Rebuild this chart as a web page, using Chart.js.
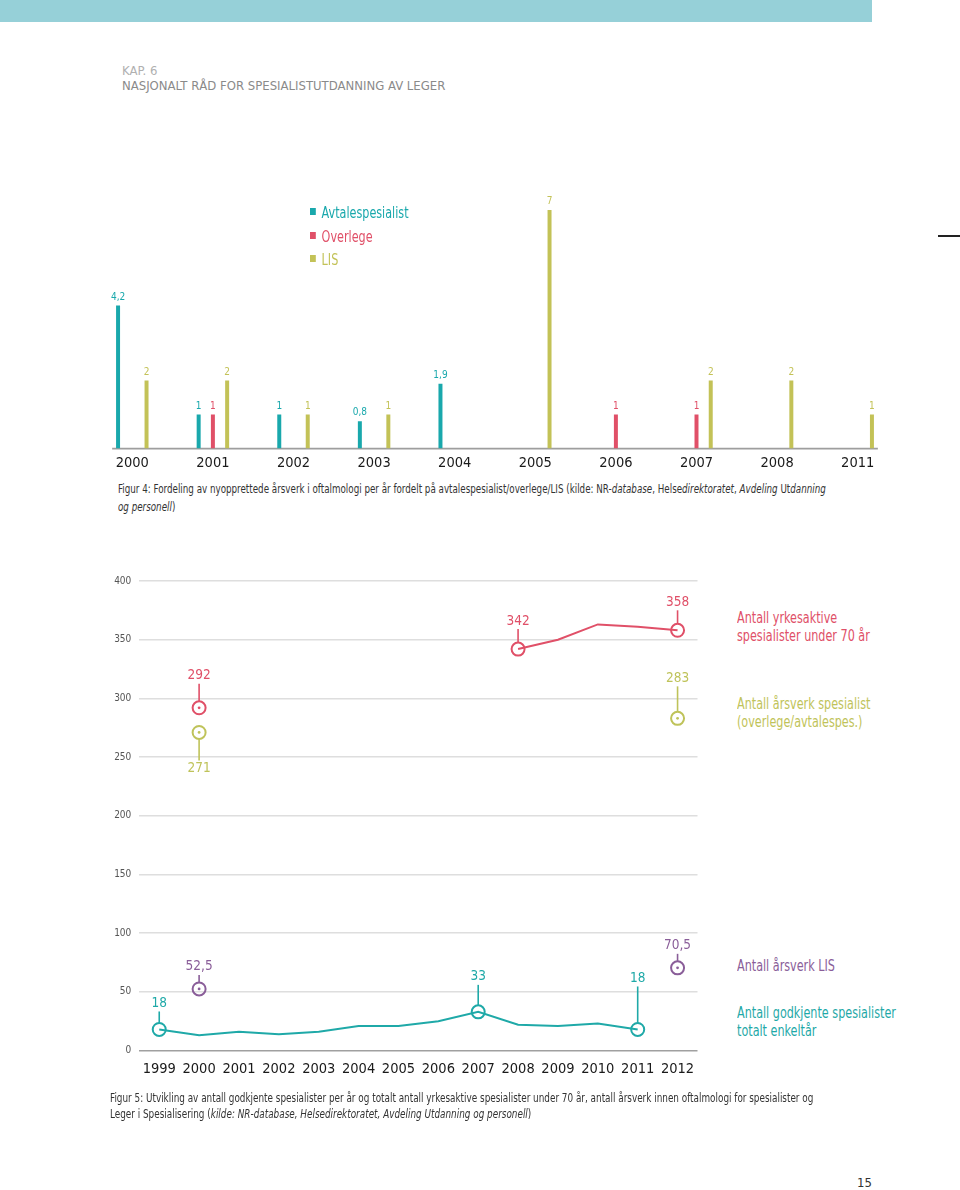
<!DOCTYPE html>
<html><head><meta charset="utf-8">
<script src="https://cdn.jsdelivr.net/npm/chart.js@4.4.1/dist/chart.umd.min.js"></script>
<style>
body{margin:0;width:960px;height:1190px;position:relative;background:#fff;overflow:hidden;
 font-family:"Liberation Sans Narrow","DejaVu Sans Condensed","Roboto Condensed",sans-serif}
.abs{position:absolute;white-space:nowrap}
.nar{transform-origin:left top;transform:scaleX(0.83)}
#band{left:0;top:0;width:872px;height:22px;background:#96d0d8}
#dash{left:938px;top:235px;width:22px;height:2px;background:#222}
#kap{left:122px;top:63px;font-size:13px;color:#b0b0b0;line-height:16px}
#title{left:122px;top:78px;font-size:13px;color:#8a8a8a;line-height:16px}
.leg{font-size:15px;line-height:18px}
.sq{display:inline-block;width:7px;height:7px;margin-right:7px;vertical-align:middle;position:relative;top:-2px}
.cap{font-size:12px;color:#333;line-height:18px}
.side{font-size:15px;line-height:18px}
#c1wrap{left:82px;top:180px;width:826px;height:300px}
#c2wrap{left:100px;top:560px;width:606px;height:533px}
</style></head>
<body>
<div id="band" class="abs"></div>
<div id="dash" class="abs"></div>
<div id="kap" class="abs">KAP. 6</div>
<div id="title" class="abs">NASJONALT RÅD FOR SPESIALISTUTDANNING AV LEGER</div>

<div id="c1wrap" class="abs"><canvas id="c1" width="826" height="300"></canvas></div>
<div class="abs leg nar" style="left:310px;top:204px;color:#19a8ac"><span class="sq" style="background:#19a8ac"></span>Avtalespesialist</div>
<div class="abs leg nar" style="left:310px;top:228px;color:#e05068"><span class="sq" style="background:#e05068"></span>Overlege</div>
<div class="abs leg nar" style="left:310px;top:251px;color:#c3c257"><span class="sq" style="background:#c3c257"></span>LIS</div>

<div class="abs cap nar" style="left:118px;top:480px;transform:scaleX(0.81)">Figur 4: Fordeling av nyopprettede årsverk i oftalmologi per år fordelt på avtalespesialist/overlege/LIS (kilde: NR-<i>database</i>, Helse<i>direktoratet</i>, <i>Avdeling</i> Ut<i>danning</i><br><i>og personell</i>)</div>

<div id="c2wrap" class="abs"><canvas id="c2" width="606" height="533"></canvas></div>
<div class="abs side nar" style="left:737px;top:609px;color:#e05068">Antall yrkesaktive<br>spesialister under 70 år</div>
<div class="abs side nar" style="left:737px;top:695px;color:#bfc35a">Antall årsverk spesialist<br>(overlege/avtalespes.)</div>
<div class="abs side nar" style="left:737px;top:957px;color:#8a5e99">Antall årsverk LIS</div>
<div class="abs side nar" style="left:737px;top:1004px;color:#1fa9a8">Antall godkjente spesialister<br>totalt enkeltår</div>

<div class="abs cap nar" style="left:110px;top:1090px;line-height:16px;transform:scaleX(0.82)">Figur 5: Utvikling av antall godkjente spesialister per år og totalt antall yrkesaktive spesialister under 70 år, antall årsverk innen oftalmologi for spesialister og<br>Leger i Spesialisering (<i>kilde: NR-database, Helsedirektoratet, Avdeling Utdanning og personell</i>)</div>

<div class="abs" style="left:857px;top:1175px;font-size:13px;color:#333">15</div>

<script>
// ---------- Figure 4 data ----------
const fig4Years = ['2000','2001','2002','2003','2004','2005','2006','2007','2008','2011'];
const fig4Avtalespesialist = [4.2, 1, 1, 0.8, 1.9, null, null, null, null, null];
const fig4Overlege = [null, 1, null, null, null, null, 1, 1, null, null];
const fig4LIS = [2, 2, 1, 1, null, 7, null, 2, 2, 1];

// ---------- Figure 5 data ----------
const fig5Years = ['1999','2000','2001','2002','2003','2004','2005','2006','2007','2008','2009','2010','2011','2012'];
const fig5Yrkesaktive = [null, 292, null, null, null, null, null, null, null, 342, 350, 363, 361, 358];
const fig5ArsverkSpesialist = [null, 271, null, null, null, null, null, null, null, null, null, null, null, 283];
const fig5ArsverkLIS = [null, 52.5, null, null, null, null, null, null, null, null, null, null, null, 70.5];
const fig5Godkjente = [18, 13, 16, 14, 16, 21, 21, 25, 33, 22, 21, 23, 18, null];
const fig5YTicks = [0, 50, 100, 150, 200, 250, 300, 350, 400];

// annotation styling (label offsets in px, centre dot) per dataset/index
const fig5Marks = [
  {1:{dy:-32, dot:true}, 9:{dy:-28}, 13:{dy:-28}},
  {1:{dy:36, dot:true}, 13:{dy:-40, dot:true}},
  {1:{dy:-22, dot:true}, 13:{dy:-22, dot:true}},
  {0:{dy:-26}, 8:{dy:-35}, 12:{dy:-51}}
];

const FONT = '"Liberation Sans Narrow","DejaVu Sans Condensed","Roboto Condensed",sans-serif';
Chart.defaults.font.family = FONT;
const TEAL = '#19a8ac', RED = '#e05068', LISC = '#c3c257', PURP = '#8a5e99', TEAL2 = '#1fa9a8', YEL2 = '#bfc35a';
const fmt = v => String(v).replace('.', ',');

// ---------- Chart 1 ----------
const barLabels = {
  id: 'barLabels',
  beforeDatasetsDraw(chart) {
    const ca = chart.chartArea, ctx = chart.ctx;
    const w = (ca.right - ca.left) / fig4Years.length;
    ctx.save();
    ctx.strokeStyle = '#9e9e9e'; ctx.lineWidth = 1.6;
    ctx.beginPath(); ctx.moveTo(ca.left + w * 0.25, ca.bottom); ctx.lineTo(ca.right - w * 0.25, ca.bottom); ctx.stroke();
    ctx.restore();
  },
  afterDatasetsDraw(chart) {
    const ctx = chart.ctx;
    ctx.save();
    ctx.font = '10px ' + FONT; ctx.textAlign = 'center'; ctx.textBaseline = 'middle';
    chart.data.datasets.forEach((ds, di) => {
      chart.getDatasetMeta(di).data.forEach((el, i) => {
        const v = ds.data[i];
        if (v === null || v === undefined) return;
        ctx.fillStyle = ds.backgroundColor;
        ctx.fillText(fmt(v), el.x, el.y - 8.5);
      });
    });
    ctx.restore();
  }
};

new Chart(document.getElementById('c1'), {
  type: 'bar',
  data: {
    labels: fig4Years,
    datasets: [
      {label: 'Avtalespesialist', data: fig4Avtalespesialist, backgroundColor: TEAL},
      {label: 'Overlege', data: fig4Overlege, backgroundColor: RED},
      {label: 'LIS', data: fig4LIS, backgroundColor: LISC}
    ]
  },
  options: {
    responsive: false, animation: false, events: [],
    categoryPercentage: 0.53, barPercentage: 0.28,
    layout: {padding: {left: 10, right: 10, top: 13, bottom: 2}},
    plugins: {legend: {display: false}, tooltip: {enabled: false}},
    scales: {
      x: {
        grid: {display: false, drawTicks: false}, border: {display: false},
        ticks: {color: '#1a1a1a', font: {size: 14.5}, padding: 6, autoSkip: false, maxRotation: 0}
      },
      y: {display: false, min: 0, max: 7.5}
    }
  },
  plugins: [barLabels]
});

// ---------- Chart 2 ----------
const markPlugin = {
  id: 'marks',
  afterDatasetsDraw(chart) {
    const ctx = chart.ctx, r = 6.5;
    chart.data.datasets.forEach((ds, di) => {
      const meta = chart.getDatasetMeta(di), marks = fig5Marks[di];
      Object.keys(marks).forEach(k => {
        const i = +k, m = marks[i], pt = meta.data[i], v = ds.data[i];
        const dir = Math.sign(m.dy), ly = pt.y + m.dy;
        ctx.save();
        ctx.strokeStyle = ds.borderColor; ctx.fillStyle = ds.borderColor; ctx.lineWidth = 1.6;
        ctx.beginPath(); ctx.moveTo(pt.x, pt.y + dir * r); ctx.lineTo(pt.x, ly - dir * 8); ctx.stroke();
        if (m.dot) { ctx.beginPath(); ctx.arc(pt.x, pt.y, 1.4, 0, Math.PI * 2); ctx.fill(); }
        ctx.font = '13.5px ' + FONT; ctx.textAlign = 'center'; ctx.textBaseline = 'middle';
        ctx.fillText(fmt(v), pt.x, ly);
        ctx.restore();
      });
    });
  }
};
const ptR = c => (fig5Marks[c.datasetIndex][c.dataIndex] ? 6.5 : 0);
const lineDs = (label, data, color) => ({
  label, data, borderColor: color, backgroundColor: 'rgba(0,0,0,0)',
  borderWidth: 2, tension: 0, spanGaps: false,
  pointRadius: ptR, pointBorderWidth: 2, pointBorderColor: color, pointBackgroundColor: 'rgba(0,0,0,0)'
});

new Chart(document.getElementById('c2'), {
  type: 'line',
  data: {
    labels: fig5Years,
    datasets: [
      lineDs('Antall yrkesaktive spesialister under 70 år', fig5Yrkesaktive, RED),
      lineDs('Antall årsverk spesialist (overlege/avtalespes.)', fig5ArsverkSpesialist, YEL2),
      lineDs('Antall årsverk LIS', fig5ArsverkLIS, PURP),
      lineDs('Antall godkjente spesialister totalt enkeltår', fig5Godkjente, TEAL2)
    ]
  },
  options: {
    responsive: false, animation: false, events: [],
    layout: {padding: {left: 0, right: 3, top: 21, bottom: 5}},
    plugins: {legend: {display: false}, tooltip: {enabled: false}},
    scales: {
      x: {
        offset: true,
        grid: {display: false, drawTicks: false}, border: {display: false},
        ticks: {color: '#1a1a1a', font: {size: 14.5}, padding: 10, autoSkip: false, maxRotation: 0}
      },
      y: {
        min: 0, max: 400,
        afterBuildTicks: s => { s.ticks = fig5YTicks.map(v => ({value: v})); },
        afterFit: s => { s.width = 39.3; },
        grid: {drawTicks: false, color: c => (c.tick.value === 0 ? '#a0a0a0' : '#dedede'), lineWidth: 1.5},
        border: {display: false},
        ticks: {color: '#555', font: {size: 10}, padding: 8}
      }
    }
  },
  plugins: [markPlugin]
});
</script>
</body></html>
